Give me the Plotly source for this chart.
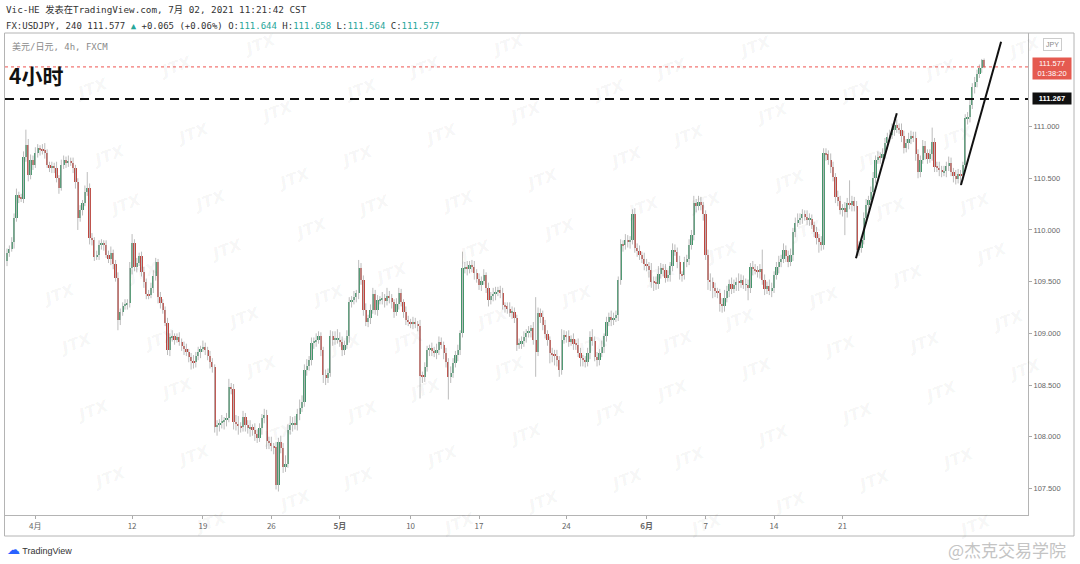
import plotly.graph_objects as go

# ---------------- data (USDJPY 4h) ----------------
closes = [
    109.78, 109.82, 109.88, 110.12, 110.34, 110.31, 110.30, 110.71, 110.82, 110.53,
    110.68, 110.63, 110.74, 110.79, 110.78, 110.77, 110.74, 110.63, 110.60, 110.61,
    110.60, 110.50, 110.41, 110.63, 110.68, 110.65, 110.66, 110.65, 110.60, 110.46,
    110.12, 110.19, 110.26, 110.37, 110.41, 109.92, 109.90, 109.74, 109.76, 109.85,
    109.87, 109.85, 109.76, 109.72, 109.78, 109.67, 109.54, 109.13, 109.21, 109.26,
    109.28, 109.29, 109.63, 109.87, 109.64, 109.68, 109.75, 109.59, 109.50, 109.38,
    109.37, 109.44, 109.55, 109.69, 109.35, 109.29, 109.23, 109.10, 108.84, 108.96,
    108.97, 108.94, 108.96, 108.92, 108.88, 108.85, 108.82, 108.77, 108.73, 108.72,
    108.78, 108.82, 108.85, 108.87, 108.84, 108.78, 108.72, 108.67, 108.09, 108.11,
    108.13, 108.15, 108.16, 108.18, 108.48, 108.46, 108.14, 108.12, 108.10, 108.09,
    108.19, 108.11, 108.08, 108.09, 108.07, 108.03, 107.99, 108.08, 108.18, 108.21,
    107.96, 107.94, 107.91, 107.90, 107.53, 107.95, 107.89, 107.71, 107.74, 108.07,
    108.11, 108.13, 108.11, 108.22, 108.28, 108.34, 108.65, 108.68, 108.74, 108.91,
    108.92, 108.94, 108.97, 108.84, 108.60, 108.57, 108.62, 108.97, 108.94, 108.94,
    108.94, 108.92, 108.84, 108.89, 108.97, 109.30, 109.32, 109.35, 109.39, 109.63,
    109.52, 109.23, 109.11, 109.15, 109.23, 109.38, 109.23, 109.32, 109.33, 109.34,
    109.31, 109.36, 109.34, 109.30, 109.21, 109.28, 109.39, 109.30, 109.21, 109.13,
    109.11, 109.10, 109.11, 109.09, 109.07, 108.59, 108.58, 108.67, 108.84, 108.86,
    108.83, 108.81, 108.84, 108.92, 108.89, 108.81, 108.72, 108.58, 108.62, 108.71,
    108.79, 108.84, 109.00, 109.63, 109.64, 109.62, 109.66, 109.64, 109.58, 109.53,
    109.47, 109.51, 109.56, 109.44, 109.32, 109.36, 109.38, 109.40, 109.42, 109.39,
    109.27, 109.26, 109.24, 109.20, 109.21, 109.15, 108.89, 108.90, 108.93, 108.96,
    109.00, 109.02, 109.05, 108.94, 108.82, 109.20, 109.16, 109.08, 108.99, 108.94,
    108.81, 108.80, 108.78, 108.74, 108.65, 108.94, 108.98, 108.97, 108.92, 108.95,
    108.90, 108.89, 108.81, 108.76, 108.74, 108.72, 108.81, 108.96, 108.93, 108.77,
    108.74, 108.81, 108.87, 108.97, 109.11, 109.16, 109.13, 109.15, 109.18, 109.52,
    109.86, 109.85, 109.90, 109.88, 109.90, 110.15, 109.83, 109.80, 109.76, 109.72,
    109.67, 109.65, 109.61, 109.50, 109.49, 109.48, 109.57, 109.63, 109.61, 109.54,
    109.56, 109.65, 109.81, 109.79, 109.69, 109.57, 109.56, 109.69, 109.72, 109.85,
    109.95, 110.26, 110.23, 110.27, 110.24, 110.15, 109.76, 109.52, 109.50, 109.44,
    109.41, 109.39, 109.28, 109.26, 109.34, 109.41, 109.48, 109.43, 109.47, 109.50,
    109.49, 109.52, 109.47, 109.47, 109.44, 109.64, 109.62, 109.61, 109.59, 109.62,
    109.52, 109.43, 109.46, 109.41, 109.44, 109.56, 109.64, 109.69, 109.72, 109.81,
    109.75, 109.69, 109.76, 109.98, 110.07, 110.10, 110.12, 110.15, 110.13, 110.10,
    110.11, 110.05, 109.98, 109.92, 109.88, 109.85, 110.74, 110.73, 110.68, 110.61,
    110.51, 110.32, 110.28, 110.19, 110.21, 110.17, 110.26, 110.24, 110.28, 110.23,
    109.81, 109.83, 109.90, 110.12, 110.24, 110.29, 110.37, 110.50, 110.68, 110.71,
    110.70, 110.73, 110.84, 110.90, 110.92, 110.97, 111.02, 110.99, 110.97, 110.91,
    110.79, 110.84, 110.88, 110.91, 110.89, 110.73, 110.56, 110.68, 110.81, 110.74,
    110.69, 110.73, 110.85, 110.61, 110.60, 110.58, 110.56, 110.57, 110.62, 110.65,
    110.56, 110.52, 110.49, 110.54, 110.53, 110.63, 111.08, 111.09, 111.21, 111.38,
    111.43, 111.51, 111.57, 111.644, 111.577,
]
first_open = 109.70

# wick lengths above / below the body, in pips (0.01 JPY)
wick_hi = [
    4, 3, 5, 4, 6, 3, 4, 5, 15, 6,   5, 4, 6, 4, 3, 5, 7, 4, 3, 5,
    4, 6, 3, 5, 4, 3, 6, 4, 5, 3,    4, 5, 3, 6, 15, 4, 5, 3, 4, 5,
    4, 3, 5, 4, 6, 3, 4, 5, 3, 4,    5, 4, 6, 9, 4, 5, 3, 4, 5, 3,
    4, 5, 6, 4, 3, 5, 4, 3, 5, 4,    6, 3, 4, 5, 3, 4, 5, 3, 4, 6,
    4, 5, 3, 6, 4, 3, 5, 4, 3, 5,    4, 6, 3, 5, 8, 4, 5, 7, 8, 4,
    6, 4, 5, 7, 3, 6, 4, 5, 4, 6,    5, 4, 6, 3, 5, 4, 6, 5, 8, 5,
    9, 6, 7, 5, 8, 6, 5, 7, 4, 5,    4, 6, 5, 4, 3, 5, 4, 6, 5, 8,
    10, 7, 5, 4, 6, 5, 4, 6, 3, 8,   5, 4, 6, 3, 5, 6, 4, 5, 3, 6,
    4, 8, 5, 4, 3, 6, 5, 4, 3, 5,    4, 3, 5, 4, 3, 6, 4, 5, 4, 3,
    5, 4, 6, 5, 4, 3, 5, 4, 6, 5,    4, 5, 3, 16, 5, 6, 4, 5, 6, 4,
    5, 4, 6, 3, 5, 4, 6, 5, 3, 4,    5, 3, 4, 6, 5, 4, 3, 5, 4, 6,
    4, 5, 3, 6, 41, 5, 4, 6, 5, 4,   3, 5, 4, 6, 4, 10, 5, 4, 6, 3,
    5, 4, 6, 5, 3, 4, 5, 6, 8, 4,    5, 4, 6, 3, 5, 4, 6, 5, 4, 3,
    5, 4, 6, 5, 4, 5, 6, 4, 5, 3,    6, 5, 4, 7, 5, 6, 8, 5, 4, 6,
    5, 4, 6, 5, 4, 6, 3, 5, 4, 6,    5, 7, 4, 6, 5, 3, 4, 5, 6, 4,
    5, 3, 4, 6, 8, 5, 4, 6, 5, 4,    8, 5, 4, 6, 5, 4, 6, 5, 4, 5,
    19, 5, 4, 6, 5, 4, 5, 6, 4, 6,   4, 5, 6, 4, 5, 6, 4, 5, 4, 6,
    5, 4, 3, 5, 4, 6, 5, 5, 4, 6,    5, 4, 6, 5, 4, 6, 5, 22, 5, 4,
    5, 6, 4, 5, 6, 4, 5, 6, 4, 5,    4, 6, 5, 4, 5, 6, 7, 5, 4, 6,
    5, 4, 6, 5, 4, 6, 5, 4, 6, 5,    4, 5, 14, 4, 5, 6, 4, 5, 4, 6,
    5, 4, 6, 5, 4, 3, 4, 5, 6, 4,    5, 4, 3, 1, 1.4,
]
wick_lo = [
    5, 4, 3, 6, 4, 5, 3, 4, 5, 6,    4, 5, 3, 4, 6, 4, 5, 3, 4, 5,
    5, 4, 6, 3, 4, 5, 4, 3, 5, 6,    12, 4, 5, 3, 4, 6, 5, 4, 3, 5,
    4, 5, 3, 4, 6, 5, 4, 10, 5, 4,   3, 5, 4, 6, 4, 5, 3, 4, 6, 5,
    4, 3, 5, 4, 6, 5, 4, 3, 5, 6,    4, 5, 3, 4, 5, 6, 4, 5, 8, 6,
    5, 4, 6, 3, 5, 4, 6, 5, 5, 8,    6, 5, 8, 6, 4, 5, 7, 6, 8, 5,
    4, 6, 5, 8, 6, 7, 5, 4, 6, 5,    8, 6, 5, 7, 4, 6, 5, 6, 5, 4,
    5, 6, 4, 5, 6, 4, 5, 6, 4, 5,    6, 5, 4, 6, 8, 7, 5, 4, 6, 5,
    4, 5, 6, 5, 4, 6, 5, 4, 5, 6,    5, 6, 4, 5, 6, 4, 5, 6, 4, 5,
    6, 4, 5, 6, 6, 4, 5, 4, 6, 5,    4, 5, 6, 4, 5, 22, 6, 5, 4, 6,
    5, 4, 6, 5, 4, 6, 5, 22, 6, 5,   4, 6, 5, 4, 5, 6, 4, 5, 6, 4,
    5, 6, 4, 5, 6, 4, 5, 6, 4, 5,    4, 6, 5, 4, 6, 5, 6, 4, 5, 6,
    5, 4, 6, 5, 24, 4, 6, 5, 4, 6,   10, 8, 9, 6, 7, 5, 4, 6, 5, 4,
    6, 5, 4, 8, 6, 5, 4, 6, 5, 4,    6, 5, 4, 6, 5, 4, 6, 5, 4, 6,
    5, 6, 4, 5, 6, 4, 5, 6, 5, 4,    6, 5, 7, 6, 8, 6, 5, 4, 6, 5,
    4, 6, 5, 4, 6, 5, 6, 4, 5, 6,    4, 5, 6, 4, 5, 6, 5, 10, 9, 10,
    6, 5, 7, 6, 5, 4, 6, 5, 4, 6,    8, 5, 4, 6, 12, 5, 6, 4, 5, 6,
    5, 6, 5, 4, 6, 5, 4, 6, 5, 4,    6, 5, 4, 6, 5, 4, 5, 6, 4, 5,
    6, 4, 5, 6, 10, 5, 4, 6, 5, 6,   4, 6, 5, 4, 6, 22, 5, 4, 6, 5,
    8, 6, 5, 4, 6, 5, 4, 6, 5, 4,    6, 5, 4, 6, 5, 4, 6, 5, 4, 6,
    5, 4, 6, 5, 4, 6, 6, 5, 4, 6,    5, 4, 6, 5, 4, 6, 5, 4, 6, 5,
    4, 6, 5, 4, 10, 5, 4, 6, 5, 4,   6, 5, 4, 5, 1.3,
]

# x-axis labels (candle index where each date label sits)
tick_idx = [12, 53, 83, 112, 141, 171, 200, 237, 271, 296, 325, 354]
tick_txt = ["4月", "12", "19", "26", "<b>5月</b>", "10", "17", "24", "<b>6月</b>", "7", "14", "21"]
price_ticks = [107.5, 108.0, 108.5, 109.0, 109.5, 110.0, 110.5, 111.0]

last_price = 111.577
level_price = 111.267
# user-drawn trend lines: (index, price) endpoints
trend1_x, trend1_y = [359.7, 377.0], [109.726, 111.128]
trend2_x, trend2_y = [404.2, 421.2], [110.435, 111.820]

# ---------------- derived ----------------
n = len(closes)
idx = list(range(n))
opens = [first_open] + closes[:-1]
body_hi = [max(o, c) for o, c in zip(opens, closes)]
body_lo = [min(o, c) for o, c in zip(opens, closes)]
highs = [b + w / 100 for b, w in zip(body_hi, wick_hi)]
lows = [b - w / 100 for b, w in zip(body_lo, wick_lo)]

GREEN = "#43956a"
RED = "#bf463f"
colors = [GREEN if c >= o else RED for o, c in zip(opens, closes)]
body_h = [max(h - l, 0.006) for h, l in zip(body_hi, body_lo)]

wx, wy = [], []
for i in idx:
    wx += [i, i, None]
    wy += [lows[i], highs[i], None]

fig = go.Figure()
fig.add_trace(go.Scatter(x=wx, y=wy, mode="lines", line=dict(color="#bcbcbc", width=1),
                         hoverinfo="skip", showlegend=False))
fig.add_trace(go.Bar(x=idx, y=body_h, base=body_lo, width=0.95,
                     marker=dict(color=colors, line=dict(width=0)),
                     hoverinfo="skip", showlegend=False))

# pixel helpers for paper coordinates (plot area: x 5..1028, y 33..515)
def px(x):
    return (x - 5) / 1023.0

def py(y):
    return (515 - y) / 482.0

AX = "#b4b4b4"
shapes = [
    dict(type="line", xref="paper", yref="y", x0=0, x1=1, y0=last_price, y1=last_price,
         line=dict(color="#ef5350", width=1, dash="dot")),
    dict(type="line", xref="paper", yref="y", x0=0, x1=1, y0=level_price, y1=level_price,
         line=dict(color="#111111", width=2, dash="9px,6px")),
    dict(type="line", xref="x", yref="y", x0=trend1_x[0], x1=trend1_x[1], y0=trend1_y[0], y1=trend1_y[1],
         line=dict(color="#111111", width=2)),
    dict(type="line", xref="x", yref="y", x0=trend2_x[0], x1=trend2_x[1], y0=trend2_y[0], y1=trend2_y[1],
         line=dict(color="#111111", width=2)),
    # outer frame
    dict(type="rect", xref="paper", yref="paper", x0=px(4.5), x1=px(1074), y0=py(536), y1=py(33),
         line=dict(color=AX, width=1), fillcolor="rgba(0,0,0,0)"),
]

annotations = []
# watermark lattice
for a in range(-4, 15):
    for b in range(-6, 10):
        X = 20 + 84 * a + 17 * b
        Y = 227 - 22 * a + 67 * b
        if 28 <= X <= 1050 and 8 <= Y <= 556:
            annotations.append(dict(xref="paper", yref="paper", x=px(X), y=py(Y), text="<b><i>JTX</i></b>",
                                    showarrow=False, textangle=-20,
                                    font=dict(family="DejaVu Sans", size=16, color="rgba(0,0,0,0.05)")))

TEAL = "#26a69a"
DARK = "#333333"
annotations += [
    dict(xref="paper", yref="paper", x=px(4), y=py(10), xanchor="left", yanchor="middle", showarrow=False,
         text="Vic-HE 发表在TradingView.com, 7月 02, 2021 11:21:42 CST",
         font=dict(family="DejaVu Sans Mono, Noto Sans CJK SC", size=9.3, color=DARK)),
    dict(xref="paper", yref="paper", x=px(4), y=py(26), xanchor="left", yanchor="middle", showarrow=False,
         text=("FX:USDJPY, 240 111.577 <span style='color:%s'>▲</span> +0.065 (+0.06%%) "
               "O:<span style='color:%s'>111.644</span> H:<span style='color:%s'>111.658</span> "
               "L:<span style='color:%s'>111.564</span> C:<span style='color:%s'>111.577</span>")
              % (TEAL, TEAL, TEAL, TEAL, TEAL),
         font=dict(family="DejaVu Sans Mono, Noto Sans CJK SC", size=9, color=DARK)),
    dict(xref="paper", yref="paper", x=px(10), y=py(46), xanchor="left", yanchor="middle", showarrow=False,
         text="美元/日元, 4h, FXCM",
         font=dict(family="DejaVu Sans Mono, Noto Sans CJK SC", size=9, color="#8a8a8a")),
    dict(xref="paper", yref="paper", x=px(7), y=py(75), xanchor="left", yanchor="middle", showarrow=False,
         text="<b>4小时</b>", font=dict(family="Noto Sans CJK SC", size=21, color="#111111")),
    dict(xref="paper", yref="paper", x=px(1052), y=py(44), xanchor="center", yanchor="middle", showarrow=False,
         text="JPY", font=dict(family="Liberation Sans", size=7, color="#888888"),
         bordercolor="#cccccc", borderwidth=1, borderpad=2, bgcolor="white"),
    dict(xref="paper", yref="y", x=px(1032), y=last_price, xanchor="left", yanchor="middle", yshift=-2,
         showarrow=False, align="center", width=36,
         text="111.577<br>01:38:20", font=dict(family="Liberation Sans", size=7.5, color="white"),
         bgcolor="#e55a50", borderpad=1),
    dict(xref="paper", yref="y", x=px(1032), y=level_price, xanchor="left", yanchor="middle",
         showarrow=False, align="center", width=36,
         text="<b>111.267</b>", font=dict(family="Liberation Sans", size=7.5, color="white"),
         bgcolor="#111111", borderpad=1),
    dict(xref="paper", yref="paper", x=px(5), y=py(549), xanchor="left", yanchor="middle", showarrow=False,
         text="<span style='color:#2962ff;font-size:13px'>☁</span> TradingView",
         font=dict(family="Liberation Sans", size=9, color="#333333")),
    dict(xref="paper", yref="paper", x=px(1068), y=py(549), xanchor="right", yanchor="middle", showarrow=False,
         text="@杰克交易学院", font=dict(family="Noto Sans CJK SC", size=17, color="#c4c4c4")),
]

fig.update_layout(
    width=1080, height=564,
    margin=dict(l=5, r=52, t=33, b=49),
    paper_bgcolor="white", plot_bgcolor="white",
    showlegend=False, bargap=0,
    shapes=shapes, annotations=annotations,
    xaxis=dict(range=[-0.85, 432.6], tickvals=tick_idx, ticktext=tick_txt,
               showgrid=False, zeroline=False, showline=True, linecolor=AX, linewidth=1,
               ticks="outside", ticklen=3, tickcolor="#aaaaaa",
               tickfont=dict(family="Noto Sans CJK SC, Liberation Sans", size=8, color="#666666"),
               fixedrange=True),
    yaxis=dict(range=[107.243, 111.905], side="right", tickvals=price_ticks, tickformat=".3f",
               showgrid=False, zeroline=False, showline=True, linecolor=AX, linewidth=1,
               ticks="outside", ticklen=3, tickcolor="#aaaaaa",
               tickfont=dict(family="Liberation Sans", size=7.5, color="#666666"), fixedrange=True),
)

fig.write_html("out.html")
